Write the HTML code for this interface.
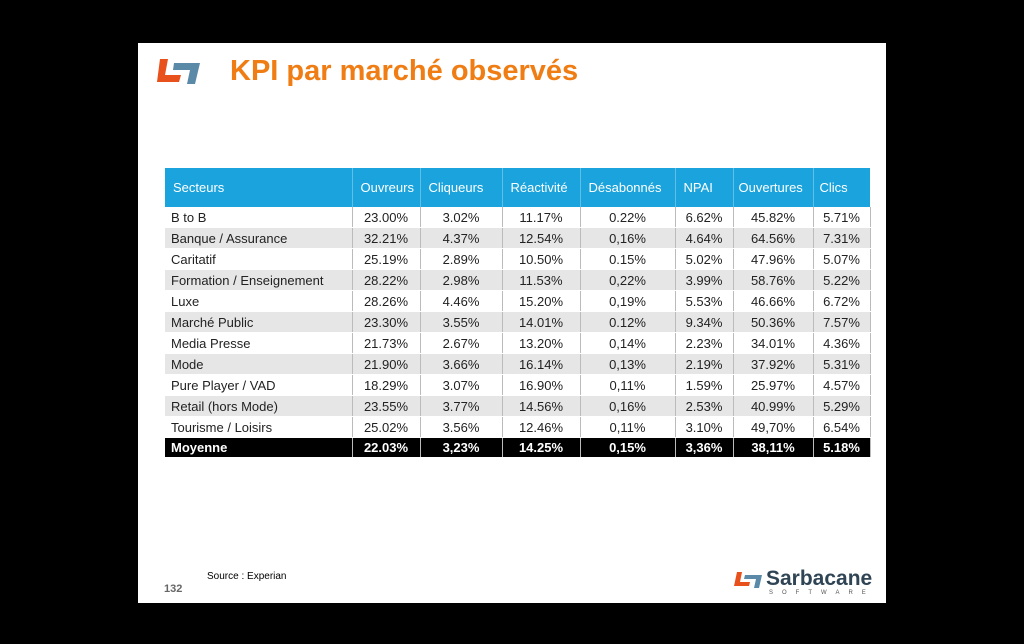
<!DOCTYPE html>
<html><head><meta charset="utf-8"><style>
body{margin:0;width:1024px;height:644px;background:#000;position:relative;overflow:hidden;font-family:"Liberation Sans",sans-serif}
#slide{position:absolute;left:138px;top:43px;width:748px;height:560px;background:#fff}
h1{position:absolute;left:92px;top:12px;margin:0;font-size:29px;color:#f07d14;font-weight:bold}
table{position:absolute;left:27px;top:125px;border-collapse:collapse;font-size:13px;color:#222;table-layout:fixed;width:705px}
th{background:#1aa3dc;color:#fff;font-weight:normal;text-align:left;height:39px;padding:0 0 0 8px;border-right:1px solid #5fbfe6;white-space:nowrap;overflow:hidden}
td{height:20px;padding:0;text-align:center;border-right:1px solid #bbb;border-bottom:1px solid #fff;white-space:nowrap;overflow:hidden}
td:first-child{text-align:left;padding-left:6px}
tr.g td{background:#e6e6e6}
tr.m td{background:#000;color:#fff;font-weight:bold;height:19px}
</style></head><body>
<div id="slide">
<svg style="position:absolute;left:18px;top:14px" width="46" height="28">
<path d="M4 2h8l-3 16h16l-2 7H1z" fill="#e8501c"/><path d="M18 6h26l-5 21h-8l3-14H17z" fill="#5a8aa8"/></svg>
<h1>KPI par marché observés</h1>
<table>
<colgroup><col style="width:187px"><col style="width:68px"><col style="width:82px"><col style="width:78px"><col style="width:95px"><col style="width:58px"><col style="width:80px"><col style="width:57px"></colgroup>
<tr><th>Secteurs</th><th>Ouvreurs</th><th>Cliqueurs</th><th>Réactivité</th><th>Désabonnés</th><th>NPAI</th><th style="padding-left:5px">Ouvertures</th><th style="border:0;padding-left:6px">Clics</th></tr>
<tr><td>B to B</td><td>23.00%</td><td>3.02%</td><td>11.17%</td><td>0.22%</td><td>6.62%</td><td>45.82%</td><td>5.71%</td></tr>
<tr class="g"><td>Banque / Assurance</td><td>32.21%</td><td>4.37%</td><td>12.54%</td><td>0,16%</td><td>4.64%</td><td>64.56%</td><td>7.31%</td></tr>
<tr><td>Caritatif</td><td>25.19%</td><td>2.89%</td><td>10.50%</td><td>0.15%</td><td>5.02%</td><td>47.96%</td><td>5.07%</td></tr>
<tr class="g"><td>Formation / Enseignement</td><td>28.22%</td><td>2.98%</td><td>11.53%</td><td>0,22%</td><td>3.99%</td><td>58.76%</td><td>5.22%</td></tr>
<tr><td>Luxe</td><td>28.26%</td><td>4.46%</td><td>15.20%</td><td>0,19%</td><td>5.53%</td><td>46.66%</td><td>6.72%</td></tr>
<tr class="g"><td>Marché Public</td><td>23.30%</td><td>3.55%</td><td>14.01%</td><td>0.12%</td><td>9.34%</td><td>50.36%</td><td>7.57%</td></tr>
<tr><td>Media Presse</td><td>21.73%</td><td>2.67%</td><td>13.20%</td><td>0,14%</td><td>2.23%</td><td>34.01%</td><td>4.36%</td></tr>
<tr class="g"><td>Mode</td><td>21.90%</td><td>3.66%</td><td>16.14%</td><td>0,13%</td><td>2.19%</td><td>37.92%</td><td>5.31%</td></tr>
<tr><td>Pure Player / VAD</td><td>18.29%</td><td>3.07%</td><td>16.90%</td><td>0,11%</td><td>1.59%</td><td>25.97%</td><td>4.57%</td></tr>
<tr class="g"><td>Retail (hors Mode)</td><td>23.55%</td><td>3.77%</td><td>14.56%</td><td>0,16%</td><td>2.53%</td><td>40.99%</td><td>5.29%</td></tr>
<tr><td>Tourisme / Loisirs</td><td>25.02%</td><td>3.56%</td><td>12.46%</td><td>0,11%</td><td>3.10%</td><td>49,70%</td><td>6.54%</td></tr>
<tr class="m"><td>Moyenne</td><td>22.03%</td><td>3,23%</td><td>14.25%</td><td>0,15%</td><td>3,36%</td><td>38,11%</td><td>5.18%</td></tr>
</table>
<div style="position:absolute;left:69px;top:528px;font-size:10px">Source : Experian</div>
<div style="position:absolute;left:26px;top:540px;font-size:11px;color:#666;font-weight:bold">132</div>
<svg style="position:absolute;left:596px;top:528px" width="32" height="18"><path d="M3 1h5l-2 10h10l-1 4H0z" fill="#e8501c"/><path d="M11 4h17l-3 13h-5l2-9h-12z" fill="#5a8aa8"/></svg>
<div style="position:absolute;left:628px;top:524px;font-size:21px;font-weight:bold;color:#2f4454">Sarbacane</div>
<div style="position:absolute;left:631px;top:547px;font-size:6px;letter-spacing:9px;color:#555">SOFTWARE</div>
</div>
</body></html>
